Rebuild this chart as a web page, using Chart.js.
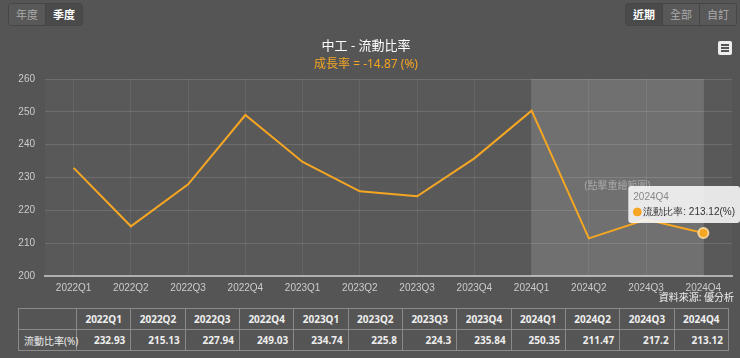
<!DOCTYPE html>
<html>
<head>
<meta charset="utf-8">
<script src="https://cdn.jsdelivr.net/npm/chart.js@4.4.0/dist/chart.umd.min.js"></script>
<style>
body{margin:0;background:#555;width:740px;height:358px;overflow:hidden;position:relative;font-family:"Noto Sans","Noto Sans CJK TC",sans-serif}
#wrap{position:absolute;left:0;top:0;width:740px;height:305px}
.btns{position:absolute;top:3px;display:flex;white-space:nowrap;border:1px solid #464646;border-radius:3px;overflow:hidden}
.btns span{display:block;height:21px;line-height:21px;padding:0 7px;font-size:11px;color:#aaa;background:#585858;border-left:1px solid #464646}
.btns span:first-child{border-left:none}
.btns span.on{background:#4a4a4a;color:#fff;font-weight:bold}
#menu{position:absolute;left:718px;top:41px;width:14px;height:14px;background:#eee;border-radius:2px}
#menu i{position:absolute;left:3px;width:8px;height:2px;background:#555}
#src{position:absolute;right:6px;top:289px;font-size:10px;color:#eee}
table{position:absolute;left:18px;top:308px;width:711px;border-collapse:collapse;font-size:10px;color:#eee;font-weight:bold;table-layout:fixed}
td{border:1px solid #8a8a8a;height:20px;padding:0 5px;text-align:right;white-space:nowrap}
tr:first-child td{text-align:center}
td:first-child{width:47px;text-align:left;font-weight:normal}
</style>
</head>
<body>
<div class="btns" style="left:8px"><span>年度</span><span class="on">季度</span></div>
<div class="btns" style="right:3px"><span class="on">近期</span><span>全部</span><span>自訂</span></div>
<div id="wrap"><canvas id="ratioChart"></canvas></div>
<div id="menu"><i style="top:3px"></i><i style="top:6px"></i><i style="top:9px"></i></div>
<div id="src">資料來源: 優分析</div>
<table id="dataTable"></table>
<script>
const quarters = ["2022Q1","2022Q2","2022Q3","2022Q4","2023Q1","2023Q2","2023Q3","2023Q4","2024Q1","2024Q2","2024Q3","2024Q4"];
const currentRatio = [232.93,215.13,227.94,249.03,234.74,225.8,224.3,235.84,250.35,211.47,217.2,213.12];
const seriesName = "流動比率";
const chartTitle = "中工 - 流動比率";
const bandStart = 8;  // 2024Q1
const bandEnd = 11;   // 2024Q4

const growth = ((currentRatio[bandEnd] - currentRatio[bandStart]) / currentRatio[bandStart] * 100).toFixed(2);

// table under the chart
const table = document.getElementById("dataTable");
let head = "<tr><td></td>";
let body = "<tr><td>" + seriesName + "(%)</td>";
quarters.forEach((q, i) => {
    head += "<td>" + q + "</td>";
    body += "<td>" + currentRatio[i] + "</td>";
});
table.innerHTML = head + "</tr>" + body + "</tr>";

const bandPlugin = {
    id: "band",
    beforeDraw(chart) {
        const {ctx, chartArea} = chart;
        ctx.save();
        ctx.fillStyle = "rgba(255,255,255,0.025)";
        ctx.fillRect(chartArea.left, chartArea.top, chartArea.width, chartArea.height);
        ctx.restore();
    },
    beforeDatasetsDraw(chart) {
        const {ctx, chartArea, scales} = chart;
        const x0 = scales.x.getPixelForValue(bandStart);
        const x1 = scales.x.getPixelForValue(bandEnd);
        ctx.save();
        ctx.fillStyle = "rgba(255,255,255,0.14)";
        ctx.fillRect(x0, chartArea.top, x1 - x0, chartArea.height);
        ctx.fillStyle = "rgba(255,255,255,0.38)";
        ctx.font = "10px 'Noto Sans', 'Noto Sans CJK TC'";
        ctx.textAlign = "center";
        ctx.textBaseline = "middle";
        ctx.fillText("(點擊重繪範圍)", (x0 + x1) / 2, scales.y.getPixelForValue(227.5));
        ctx.restore();
    }
};

Chart.Tooltip.positioners.aboveLeft = function(items) {
    if (!items.length) return false;
    const el = items[0].element;
    return {x: el.x - 18, y: el.y - 8};
};

const ctx = document.getElementById("ratioChart").getContext("2d");
const chart = new Chart(ctx, {
    type: "line",
    data: {
        labels: quarters,
        datasets: [{
            label: seriesName,
            data: currentRatio,
            borderColor: "#f5a623",
            borderWidth: 2,
            tension: 0,
            pointRadius: 0,
            pointHoverRadius: 5,
            pointHoverBackgroundColor: "#f5a623",
            pointHoverBorderColor: "rgba(255,225,170,0.85)",
            pointHoverBorderWidth: 2
        }]
    },
    options: {
        responsive: true,
        maintainAspectRatio: false,
        animation: false,
        events: [],
        layout: {padding: {left: 0, right: 8, top: 0, bottom: 5}},
        plugins: {
            legend: {display: false},
            title: {
                display: true,
                text: chartTitle,
                color: "#fff",
                font: {size: 13, weight: "normal", family: "'Noto Sans', 'Noto Sans CJK TC'"},
                padding: {top: 38, bottom: 4}
            },
            subtitle: {
                display: true,
                text: "成長率 = " + growth + " (%)",
                color: "#f5a623",
                font: {size: 12, family: "'Noto Sans', 'Noto Sans CJK TC'"},
                padding: {top: 0, bottom: 7}
            },
            tooltip: {
                position: "aboveLeft",
                xAlign: "center",
                yAlign: "bottom",
                backgroundColor: "rgba(250,250,250,0.88)",
                titleColor: "#888",
                titleFont: {size: 10, weight: "normal"},
                titleMarginBottom: 3,
                bodyColor: "#333",
                bodyFont: {size: 10},
                padding: {x: 5, y: 5},
                caretSize: 0,
                cornerRadius: 3,
                usePointStyle: true,
                boxWidth: 8,
                boxHeight: 8,
                callbacks: {
                    label: c => c.dataset.label + ": " + c.parsed.y + "(%)",
                    labelColor: () => ({borderColor: "#f5a623", backgroundColor: "#f5a623"}),
                    labelPointStyle: () => ({pointStyle: "circle", rotation: 0})
                }
            }
        },
        scales: {
            x: {
                offset: true,
                grid: {color: "rgba(255,255,255,0.08)", drawTicks: false},
                border: {color: "#b0b0b0", width: 2},
                ticks: {color: "#ccc", font: {size: 10}, padding: 6, maxRotation: 0}
            },
            y: {
                min: 200,
                max: 260,
                afterFit: s => { s.width = 45; },
                grid: {color: "rgba(255,255,255,0.12)", drawTicks: false},
                border: {display: false},
                ticks: {stepSize: 10, color: "#ccc", font: {size: 10}, padding: 10}
            }
        }
    },
    plugins: [bandPlugin]
});

const last = [{datasetIndex: 0, index: currentRatio.length - 1}];
chart.setActiveElements(last);
chart.tooltip.setActiveElements(last, {x: 0, y: 0});
chart.update("none");
</script>
</body>
</html>
